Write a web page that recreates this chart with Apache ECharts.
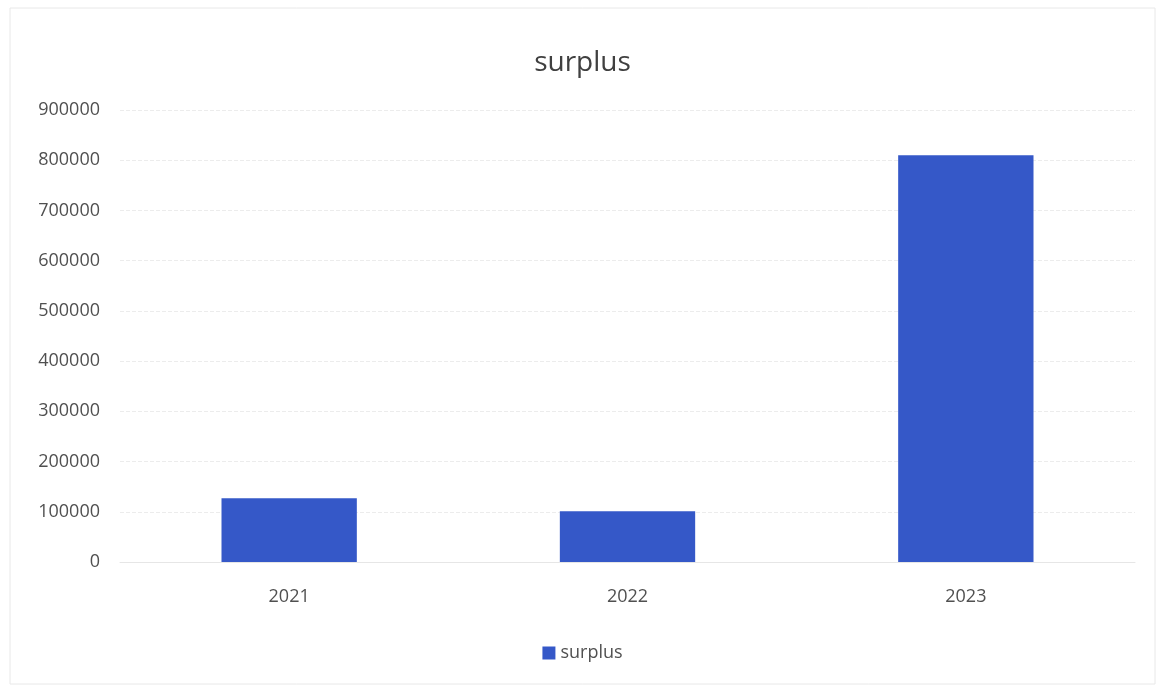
<!DOCTYPE html>
<html>
<head>
<meta charset="utf-8">
<script src="https://cdn.jsdelivr.net/npm/echarts@6/dist/echarts.min.js"></script>
<style>
html,body{margin:0;padding:0;background:#fff;}
#chart{width:1165px;height:689px;}
</style>
</head>
<body>
<div id="chart"></div>
<script>
const categories = ['2021', '2022', '2023'];
const surplus = [127000, 101000, 810000];
const seriesName = 'surplus';
const titleText = 'surplus';

const chart = echarts.init(document.getElementById('chart'));
chart.setOption({
  backgroundColor: '#ffffff',
  textStyle: { fontFamily: 'Open Sans, Noto Sans, sans-serif' },
  title: {
    text: titleText,
    left: 'center',
    top: 44,
    textStyle: { fontSize: 28, fontWeight: 'normal', color: '#404040', fontFamily: 'Open Sans, Noto Sans, sans-serif' }
  },
  legend: {
    data: [seriesName],
    bottom: 22,
    left: 'center',
    icon: 'rect',
    itemWidth: 13,
    itemHeight: 13,
    itemGap: 6,
    textStyle: { fontSize: 18, color: '#505050' }
  },
  grid: { left: 120, right: 30, top: 110, bottom: 127 },
  xAxis: {
    type: 'category',
    data: categories,
    axisLine: { lineStyle: { color: '#e6e6e6' } },
    axisTick: { show: false },
    axisLabel: { fontSize: 18, color: '#505050', margin: 26 }
  },
  yAxis: {
    type: 'value',
    min: 0,
    max: 900000,
    interval: 100000,
    axisLine: { show: false },
    axisTick: { show: false },
    splitLine: { lineStyle: { color: '#ececec', type: 'dashed' } },
    axisLabel: { fontSize: 18, color: '#505050', margin: 20, formatter: function (v) { return String(v); } }
  },
  series: [{
    name: seriesName,
    type: 'bar',
    data: surplus,
    barWidth: '40%',
    itemStyle: { color: '#3558C8' }
  }],
  graphic: [{
    type: 'rect',
    shape: { x: 10, y: 8, width: 1145, height: 676 },
    style: { fill: 'none', stroke: '#e8e8e8', lineWidth: 1 },
    silent: true
  }]
});
</script>
</body>
</html>
